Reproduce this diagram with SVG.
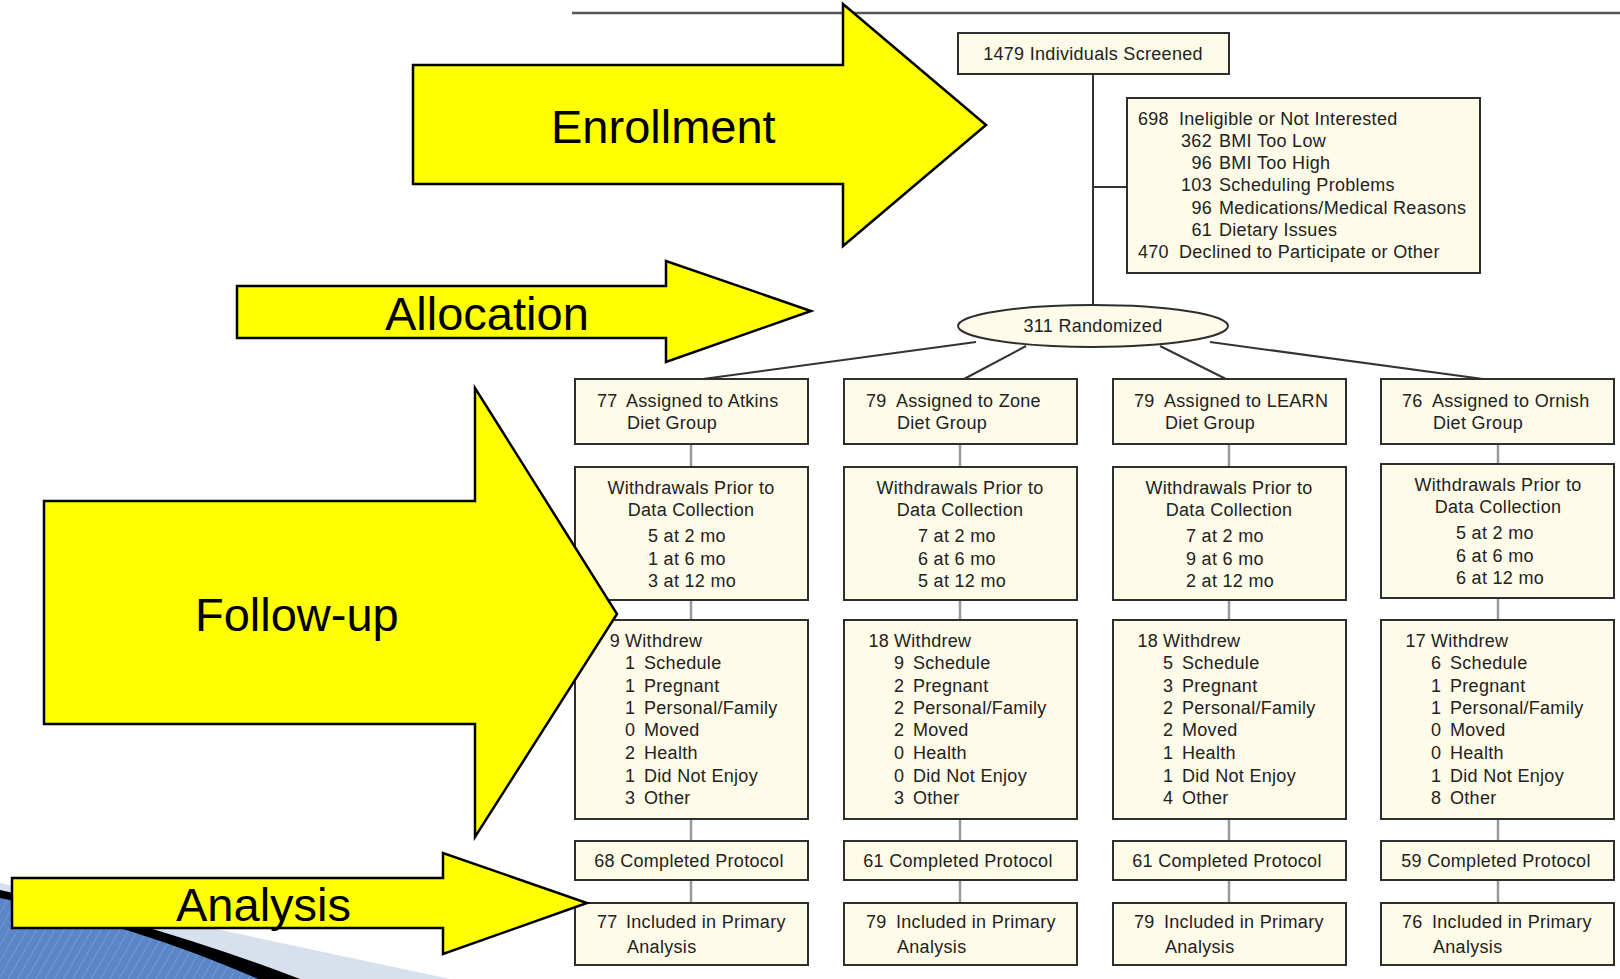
<svg xmlns="http://www.w3.org/2000/svg" width="1620" height="979" viewBox="0 0 1620 979">
<defs>
<style>
.box{fill:#fefbe8;stroke:#2e2e2e;stroke-width:2}
.t{font-family:"Liberation Sans",Arial,sans-serif;font-size:18px;fill:#222;letter-spacing:0.3px}
.c{text-anchor:middle}
.e{text-anchor:end}
.dk{stroke:#333;stroke-width:2;fill:none}
.gr{stroke:#999;stroke-width:2.5;fill:none}
.arrow{fill:#ffff00;stroke:#000;stroke-width:2.5;stroke-linejoin:miter}
.big{font-family:"Liberation Sans",Arial,sans-serif;font-size:47px;fill:#000}
</style>
<pattern id="hatch" width="8" height="8" patternUnits="userSpaceOnUse" patternTransform="rotate(30)">
<rect width="8" height="8" fill="#5a86c8"/>
<line x1="0" y1="0" x2="0" y2="8" stroke="#9dbbe6" stroke-width="1.2" opacity="0.6"/>
</pattern>
</defs>
<rect width="1620" height="979" fill="#ffffff"/>

<line x1="572" y1="13" x2="1620" y2="13" stroke="#555" stroke-width="2.5"/>

<g id="connectors">
<line class="dk" x1="1093" y1="74" x2="1093" y2="305"/>
<line class="dk" x1="1093" y1="187" x2="1127" y2="187"/>
<line class="dk" x1="976" y1="342" x2="703" y2="379"/>
<line class="dk" x1="1026" y1="346" x2="964" y2="379"/>
<line class="dk" x1="1160" y1="346" x2="1226" y2="379"/>
<line class="dk" x1="1210" y1="342" x2="1483" y2="379"/>
<g class="gr">
<line x1="691" y1="444" x2="691" y2="467"/><line x1="691" y1="600" x2="691" y2="620"/><line x1="691" y1="819" x2="691" y2="841"/><line x1="691" y1="880" x2="691" y2="903"/>
<line x1="960" y1="444" x2="960" y2="467"/><line x1="960" y1="600" x2="960" y2="620"/><line x1="960" y1="819" x2="960" y2="841"/><line x1="960" y1="880" x2="960" y2="903"/>
<line x1="1229" y1="444" x2="1229" y2="467"/><line x1="1229" y1="600" x2="1229" y2="620"/><line x1="1229" y1="819" x2="1229" y2="841"/><line x1="1229" y1="880" x2="1229" y2="903"/>
<line x1="1498" y1="444" x2="1498" y2="464"/><line x1="1498" y1="598" x2="1498" y2="620"/><line x1="1498" y1="819" x2="1498" y2="841"/><line x1="1498" y1="880" x2="1498" y2="903"/>
</g>
</g>

<g id="screened">
<rect class="box" x="958" y="33" width="271" height="41"/>
<text class="t c" x="1093" y="60">1479 Individuals Screened</text>
</g>

<g id="ineligible">
<rect class="box" x="1127" y="98" width="353" height="175"/>
<text class="t" x="1138" y="125">698</text><text class="t" x="1179" y="125">Ineligible or Not Interested</text>
<text class="t e" x="1212" y="147">362</text><text class="t" x="1219" y="147">BMI Too Low</text>
<text class="t e" x="1212" y="169">96</text><text class="t" x="1219" y="169">BMI Too High</text>
<text class="t e" x="1212" y="191">103</text><text class="t" x="1219" y="191">Scheduling Problems</text>
<text class="t e" x="1212" y="214">96</text><text class="t" x="1219" y="214">Medications/Medical Reasons</text>
<text class="t e" x="1212" y="236">61</text><text class="t" x="1219" y="236">Dietary Issues</text>
<text class="t" x="1138" y="258">470</text><text class="t" x="1179" y="258">Declined to Participate or Other</text>
</g>

<g id="randomized">
<ellipse cx="1093" cy="326" rx="135" ry="21" fill="#fefbe8" stroke="#2e2e2e" stroke-width="2"/>
<text class="t c" x="1093" y="332">311 Randomized</text>
</g>

<!-- Column 1: Atkins -->
<g id="assigned-atkins">
<rect class="box" x="575" y="379" width="233" height="65"/>
<text class="t" x="597" y="407">77</text><text class="t" x="626" y="407">Assigned to Atkins</text>
<text class="t" x="627" y="429">Diet Group</text>
</g>
<g id="prior-atkins">
<rect class="box" x="575" y="467" width="233" height="133"/>
<text class="t c" x="691" y="494">Withdrawals Prior to</text>
<text class="t c" x="691" y="516">Data Collection</text>
<text class="t" x="648" y="542">5 at 2 mo</text>
<text class="t" x="648" y="565">1 at 6 mo</text>
<text class="t" x="648" y="587">3 at 12 mo</text>
</g>
<g id="withdrew-atkins">
<rect class="box" x="575" y="620" width="233" height="199"/>
<text class="t e" x="620" y="647">9</text><text class="t" x="625" y="647">Withdrew</text>
<text class="t" x="625" y="669">1</text><text class="t" x="644" y="669">Schedule</text>
<text class="t" x="625" y="692">1</text><text class="t" x="644" y="692">Pregnant</text>
<text class="t" x="625" y="714">1</text><text class="t" x="644" y="714">Personal/Family</text>
<text class="t" x="625" y="736">0</text><text class="t" x="644" y="736">Moved</text>
<text class="t" x="625" y="759">2</text><text class="t" x="644" y="759">Health</text>
<text class="t" x="625" y="782">1</text><text class="t" x="644" y="782">Did Not Enjoy</text>
<text class="t" x="625" y="804">3</text><text class="t" x="644" y="804">Other</text>
</g>
<g id="completed-atkins">
<rect class="box" x="575" y="841" width="233" height="39"/>
<text class="t c" x="689" y="867">68 Completed Protocol</text>
</g>
<g id="included-atkins">
<rect class="box" x="575" y="903" width="233" height="62"/>
<text class="t" x="597" y="928">77</text><text class="t" x="626" y="928">Included in Primary</text>
<text class="t" x="627" y="953">Analysis</text>
</g>

<!-- Column 2: Zone -->
<g id="assigned-zone">
<rect class="box" x="844" y="379" width="233" height="65"/>
<text class="t" x="866" y="407">79</text><text class="t" x="896" y="407">Assigned to Zone</text>
<text class="t" x="897" y="429">Diet Group</text>
</g>
<g id="prior-zone">
<rect class="box" x="844" y="467" width="233" height="133"/>
<text class="t c" x="960" y="494">Withdrawals Prior to</text>
<text class="t c" x="960" y="516">Data Collection</text>
<text class="t" x="918" y="542">7 at 2 mo</text>
<text class="t" x="918" y="565">6 at 6 mo</text>
<text class="t" x="918" y="587">5 at 12 mo</text>
</g>
<g id="withdrew-zone">
<rect class="box" x="844" y="620" width="233" height="199"/>
<text class="t e" x="889" y="647">18</text><text class="t" x="894" y="647">Withdrew</text>
<text class="t" x="894" y="669">9</text><text class="t" x="913" y="669">Schedule</text>
<text class="t" x="894" y="692">2</text><text class="t" x="913" y="692">Pregnant</text>
<text class="t" x="894" y="714">2</text><text class="t" x="913" y="714">Personal/Family</text>
<text class="t" x="894" y="736">2</text><text class="t" x="913" y="736">Moved</text>
<text class="t" x="894" y="759">0</text><text class="t" x="913" y="759">Health</text>
<text class="t" x="894" y="782">0</text><text class="t" x="913" y="782">Did Not Enjoy</text>
<text class="t" x="894" y="804">3</text><text class="t" x="913" y="804">Other</text>
</g>
<g id="completed-zone">
<rect class="box" x="844" y="841" width="233" height="39"/>
<text class="t c" x="958" y="867">61 Completed Protocol</text>
</g>
<g id="included-zone">
<rect class="box" x="844" y="903" width="233" height="62"/>
<text class="t" x="866" y="928">79</text><text class="t" x="896" y="928">Included in Primary</text>
<text class="t" x="897" y="953">Analysis</text>
</g>

<!-- Column 3: LEARN -->
<g id="assigned-learn">
<rect class="box" x="1113" y="379" width="233" height="65"/>
<text class="t" x="1134" y="407">79</text><text class="t" x="1164" y="407">Assigned to LEARN</text>
<text class="t" x="1165" y="429">Diet Group</text>
</g>
<g id="prior-learn">
<rect class="box" x="1113" y="467" width="233" height="133"/>
<text class="t c" x="1229" y="494">Withdrawals Prior to</text>
<text class="t c" x="1229" y="516">Data Collection</text>
<text class="t" x="1186" y="542">7 at 2 mo</text>
<text class="t" x="1186" y="565">9 at 6 mo</text>
<text class="t" x="1186" y="587">2 at 12 mo</text>
</g>
<g id="withdrew-learn">
<rect class="box" x="1113" y="620" width="233" height="199"/>
<text class="t e" x="1158" y="647">18</text><text class="t" x="1163" y="647">Withdrew</text>
<text class="t" x="1163" y="669">5</text><text class="t" x="1182" y="669">Schedule</text>
<text class="t" x="1163" y="692">3</text><text class="t" x="1182" y="692">Pregnant</text>
<text class="t" x="1163" y="714">2</text><text class="t" x="1182" y="714">Personal/Family</text>
<text class="t" x="1163" y="736">2</text><text class="t" x="1182" y="736">Moved</text>
<text class="t" x="1163" y="759">1</text><text class="t" x="1182" y="759">Health</text>
<text class="t" x="1163" y="782">1</text><text class="t" x="1182" y="782">Did Not Enjoy</text>
<text class="t" x="1163" y="804">4</text><text class="t" x="1182" y="804">Other</text>
</g>
<g id="completed-learn">
<rect class="box" x="1113" y="841" width="233" height="39"/>
<text class="t c" x="1227" y="867">61 Completed Protocol</text>
</g>
<g id="included-learn">
<rect class="box" x="1113" y="903" width="233" height="62"/>
<text class="t" x="1134" y="928">79</text><text class="t" x="1164" y="928">Included in Primary</text>
<text class="t" x="1165" y="953">Analysis</text>
</g>

<!-- Column 4: Ornish -->
<g id="assigned-ornish">
<rect class="box" x="1381" y="379" width="233" height="65"/>
<text class="t" x="1402" y="407">76</text><text class="t" x="1432" y="407">Assigned to Ornish</text>
<text class="t" x="1433" y="429">Diet Group</text>
</g>
<g id="prior-ornish">
<rect class="box" x="1381" y="464" width="233" height="134"/>
<text class="t c" x="1498" y="491">Withdrawals Prior to</text>
<text class="t c" x="1498" y="513">Data Collection</text>
<text class="t" x="1456" y="539">5 at 2 mo</text>
<text class="t" x="1456" y="562">6 at 6 mo</text>
<text class="t" x="1456" y="584">6 at 12 mo</text>
</g>
<g id="withdrew-ornish">
<rect class="box" x="1381" y="620" width="233" height="199"/>
<text class="t e" x="1426" y="647">17</text><text class="t" x="1431" y="647">Withdrew</text>
<text class="t" x="1431" y="669">6</text><text class="t" x="1450" y="669">Schedule</text>
<text class="t" x="1431" y="692">1</text><text class="t" x="1450" y="692">Pregnant</text>
<text class="t" x="1431" y="714">1</text><text class="t" x="1450" y="714">Personal/Family</text>
<text class="t" x="1431" y="736">0</text><text class="t" x="1450" y="736">Moved</text>
<text class="t" x="1431" y="759">0</text><text class="t" x="1450" y="759">Health</text>
<text class="t" x="1431" y="782">1</text><text class="t" x="1450" y="782">Did Not Enjoy</text>
<text class="t" x="1431" y="804">8</text><text class="t" x="1450" y="804">Other</text>
</g>
<g id="completed-ornish">
<rect class="box" x="1381" y="841" width="233" height="39"/>
<text class="t c" x="1496" y="867">59 Completed Protocol</text>
</g>
<g id="included-ornish">
<rect class="box" x="1381" y="903" width="233" height="62"/>
<text class="t" x="1402" y="928">76</text><text class="t" x="1432" y="928">Included in Primary</text>
<text class="t" x="1433" y="953">Analysis</text>
</g>

<!-- bottom-left decoration -->
<g id="decoration">
<polygon points="0,883 450,979 0,979" fill="#d7e0ed"/>
<path d="M0,890 Q150,922 300,979 L0,979 Z" fill="#000"/>
<path d="M0,898 Q135,925 258,979 L0,979 Z" fill="url(#hatch)"/>
</g>

<!-- stage arrows -->
<g id="arrow-enrollment">
<polygon class="arrow" points="413,65 843,65 843,4 986,125 843,246 843,184 413,184"/>
<text class="big" x="551" y="143">Enrollment</text>
</g>
<g id="arrow-allocation">
<polygon class="arrow" points="237,286 666,286 666,261 811,311 666,362 666,338 237,338"/>
<text class="big" x="385" y="330">Allocation</text>
</g>
<g id="arrow-followup">
<polygon class="arrow" points="44,501 475,501 475,388 617,614 475,837 475,724 44,724"/>
<text class="big" x="195" y="631">Follow-up</text>
</g>
<g id="arrow-analysis">
<polygon class="arrow" points="12,878 443,878 443,853 587,903 443,954 443,928 12,928"/>
<text class="big" x="176" y="921">Analysis</text>
</g>
</svg>
